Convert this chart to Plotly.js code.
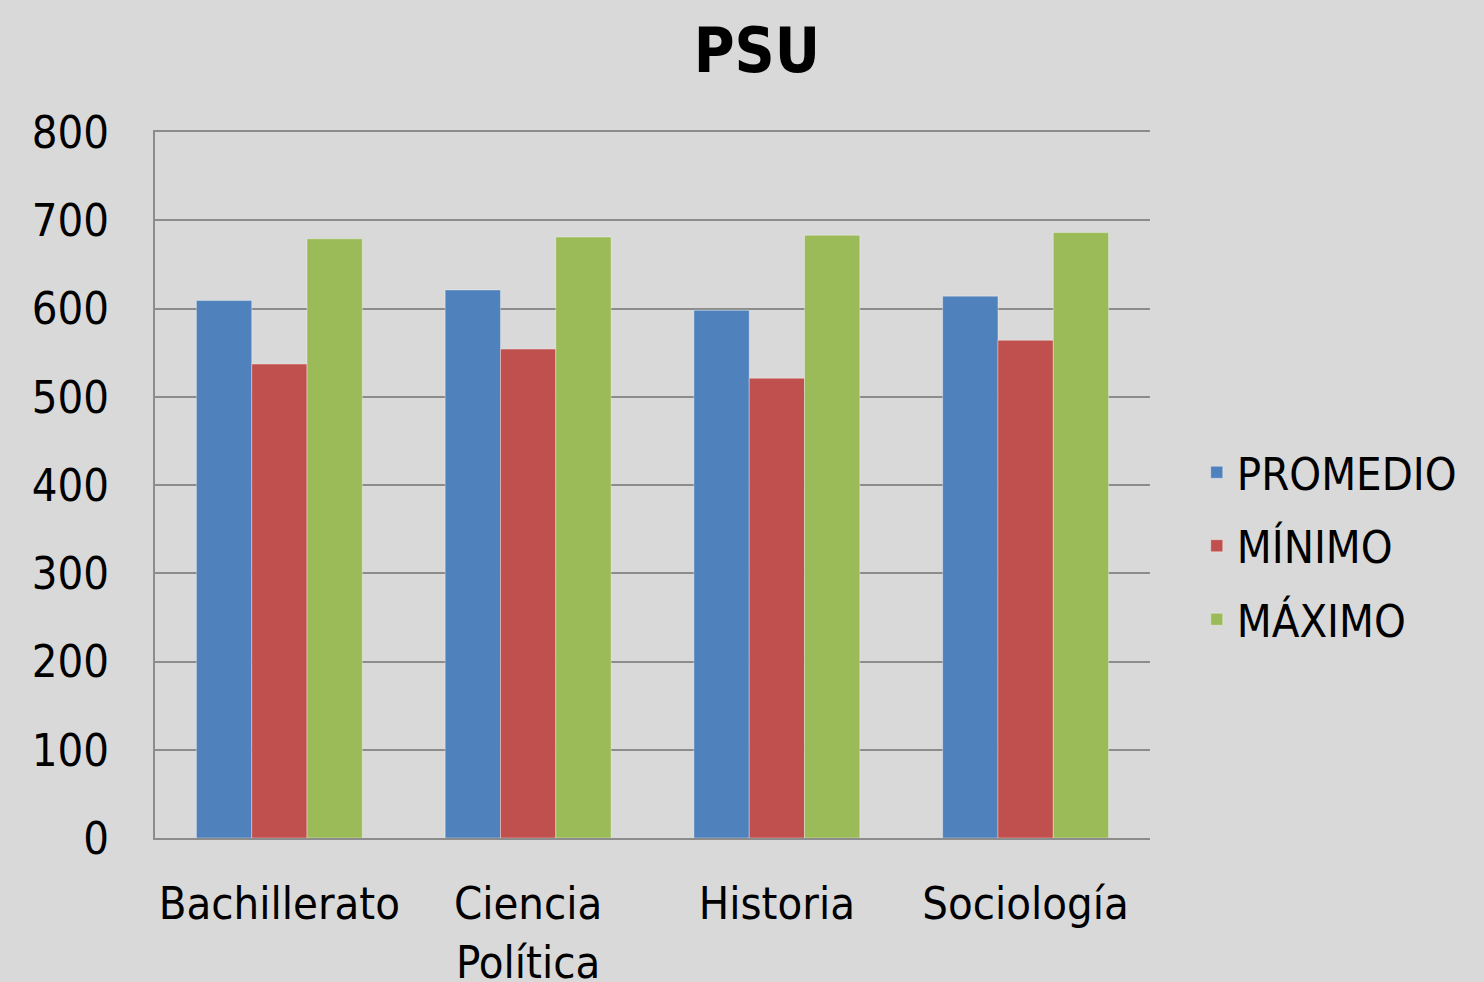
<!DOCTYPE html>
<html>
<head>
<meta charset="utf-8">
<script src="https://cdn.plot.ly/plotly-3.0.1.min.js"></script>
<style>html,body{margin:0;padding:0;background:#d9d9d9;}#chart{width:1484px;height:982px;}</style>
</head>
<body>
<div id="chart"></div>
<script>
const categories = ["Bachillerato", "Ciencia<br>Política", "Historia", "Sociología"];
const seriesNames = ["PROMEDIO", "MÍNIMO", "MÁXIMO"];
const promedio = [609, 621, 598, 614];
const minimo = [537, 554, 521, 564];
const maximo = [679, 681, 683, 686];
const colors = ["#4f81bd", "#c0504d", "#9bbb59"];
const values = [promedio, minimo, maximo];

const FONT = "DejaVu Sans Condensed, DejaVu Sans, sans-serif";

const traces = values.map((v, i) => ({
  type: "bar",
  name: seriesNames[i],
  x: categories,
  y: v,
  legendgroup: "g" + i,
  marker: {color: colors[i], line: {color: "rgba(255,255,255,0.35)", width: 1}},
  hoverinfo: "x+y+name"
}));

const layout = {
  width: 1484,
  height: 982,
  paper_bgcolor: "#d9d9d9",
  plot_bgcolor: "#d9d9d9",
  margin: {l: 155, r: 334, t: 132, b: 144},
  title: {
    text: "<b>PSU</b>",
    font: {family: FONT, size: 62, color: "#000"},
    x: 0.51, xanchor: "center",
    y: 0.949, yanchor: "middle"
  },
  barmode: "group",
  bargap: 0.333,
  bargroupgap: 0,
  showlegend: true,
  legend: {
    x: 1.047, xanchor: "left",
    y: 0.4136, yanchor: "middle",
    font: {family: FONT, size: 45, color: "#000"},
    bgcolor: "rgba(0,0,0,0)",
    traceorder: "grouped",
    tracegroupgap: 12
  },
  xaxis: {
    type: "category",
    showgrid: false,
    showline: true,
    mirror: true,
    linecolor: "#8c8c8c",
    linewidth: 2,
    ticks: "",
    tickfont: {family: FONT, size: 45, color: "#000"},
    ticklabelstandoff: 25,
    zeroline: false
  },
  yaxis: {
    range: [0, 800],
    dtick: 100,
    tick0: 0,
    showgrid: true,
    gridcolor: "#8c8c8c",
    gridwidth: 2,
    showline: true,
    linecolor: "#8c8c8c",
    linewidth: 2,
    ticks: "",
    tickfont: {family: FONT, size: 45, color: "#000"},
    ticklabelstandoff: 35,
    zeroline: false
  }
};

Plotly.newPlot("chart", traces, layout, {displayModeBar: false});
</script>
</body>
</html>
